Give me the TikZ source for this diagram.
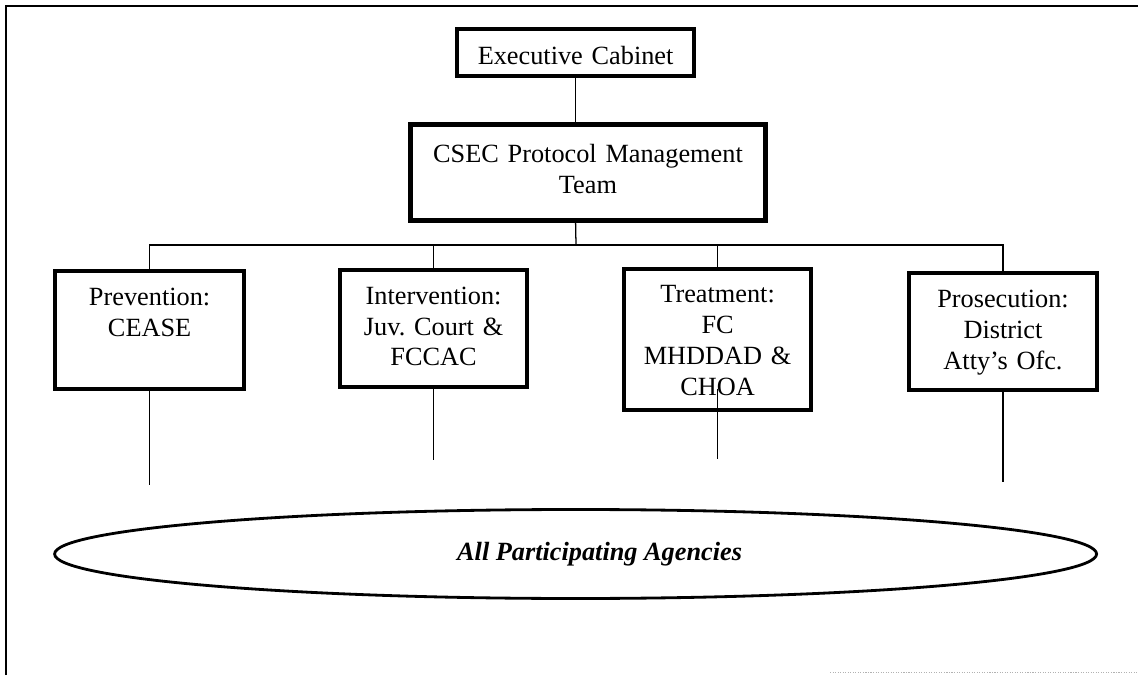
\documentclass[tikz,border=0pt]{standalone}
\usepackage{fontspec}
\setmainfont{Liberation Serif}
\usetikzlibrary{shapes,positioning}
\frenchspacing

\begin{document}
\begin{tikzpicture}[font=\fontsize{18.7}{22}\selectfont,
    unit/.style={draw, line width=2.5pt, inner sep=0pt, align=center, text width=4.4cm},
    link/.style={line width=0.9pt}]
    \useasboundingbox (0,0) rectangle (28.45,16.875);

    % Page frame
    \draw[line width=1.2pt] (0.15,0) -- (0.15,16.72) -- (28.45,16.72);
    \draw[gray!60, densely dotted, line width=0.8pt] (20.75,0.06) -- (28.45,0.06);

    % Top of the chart
    \node[unit, line width=2.8pt, text width=5.6cm, minimum width=5.93cm,
          text height=0.875cm, text depth=0.3cm] (cabinet) at (14.39,15.56) {Executive Cabinet};
    \node[unit, line width=3.5pt, text width=8.5cm, minimum width=8.875cm,
          text height=0.96cm, text depth=1.44cm] (mgmt) at (14.7,12.56)
        {CSEC Protocol Management\\Team};

    % Four units
    \node[unit, minimum width=4.725cm, text height=0.875cm, text depth=2.075cm] (prev) at (3.74,8.625)
        {Prevention:\\CEASE};
    \node[unit, minimum width=4.675cm, text height=0.85cm, text depth=2.075cm] (interv) at (10.84,8.66)
        {Intervention:\\Juv. Court \&\\FCCAC};
    \node[unit, minimum width=4.675cm, text height=0.85cm, text depth=2.675cm] (treat) at (17.94,8.3875)
        {Treatment:\\FC\\MHDDAD \&\\CHOA};
    \node[unit, minimum width=4.7cm, text height=0.875cm, text depth=2.05cm] (pros) at (25.075,8.5875)
        {Prosecution:\\District\\Atty's Ofc.};

    % Bottom
    \node[ellipse, draw, line width=2pt, minimum width=26.05cm, minimum height=2.225cm, inner sep=0pt,
          font=\fontsize{18.7}{22}\selectfont\bfseries\itshape] (agencies) at (14.39,3.025)
        {\hspace{1.2cm}All Participating Agencies};

    % Connectors
    \coordinate (bus) at (14.4,10.75);
    \draw[link] (cabinet.south) -- (cabinet.south |- mgmt.north);
    \draw[link] (cabinet.south |- mgmt.south) -- (bus);
    \draw[link] (prev.north) -- (prev.north |- bus) -- (pros.north |- bus) -- (pros.north);
    \foreach \n in {interv,treat}
        \draw[link] (\n.north) -- (\n.north |- bus);

    \coordinate (prevend) at (3.74,4.75);
    \coordinate (intervend) at (10.84,5.375);
    \coordinate (treatend) at (17.94,5.4);
    \coordinate (prosend) at (25.075,4.825);
    \draw[link] (prev.south) -- (prevend);
    \draw[link] (interv.south) -- (intervend);
    \draw[link] ([yshift=0.58cm]treat.south) -- (treatend);
    \draw[link] (pros.south) -- (prosend);
\end{tikzpicture}
\end{document}
